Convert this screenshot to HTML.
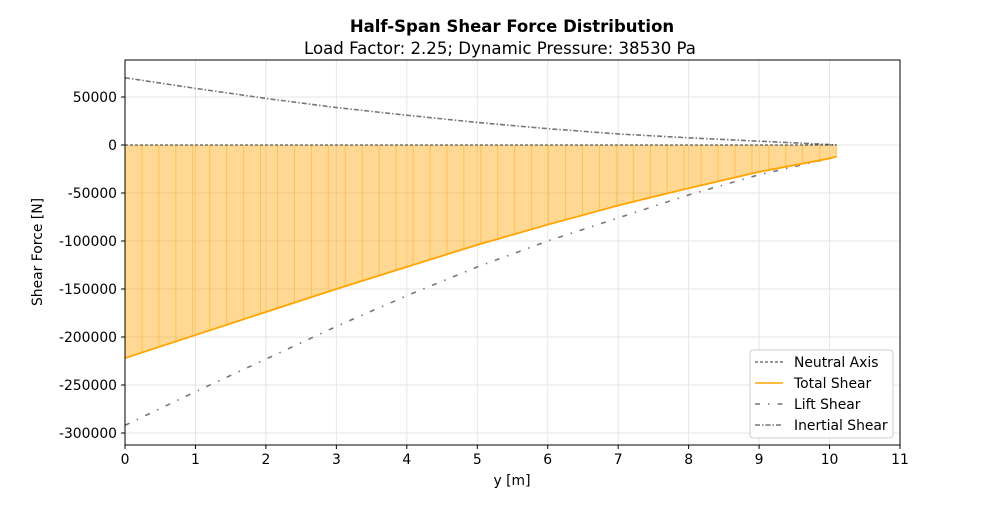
<!DOCTYPE html>
<html><head><meta charset="utf-8"><style>
body{margin:0;background:#fff;font-family:"Liberation Sans","DejaVu Sans",sans-serif;}
svg text{font-family:"DejaVu Sans","Liberation Sans",sans-serif;}
</style></head><body>
<svg id="chart" width="1000" height="500" xmlns="http://www.w3.org/2000/svg">
<text x="512" y="32" text-anchor="middle" font-size="16.5" font-weight="bold">Half-Span Shear Force Distribution</text>
<text x="500" y="54" text-anchor="middle" font-size="16.6">Load Factor: 2.25; Dynamic Pressure: 38530 Pa</text>
<g id="grid"></g><g id="marks"></g><g id="axes"></g>
<text x="512" y="485" text-anchor="middle" font-size="13.9">y [m]</text>
<text transform="translate(42,252) rotate(-90)" text-anchor="middle" font-size="13.9">Shear Force [N]</text>
<g>
<rect x="750" y="350" width="143" height="88" rx="3" fill="#fff" fill-opacity="0.85" stroke="#ccc"/>
<line x1="755" y1="362" x2="783" y2="362" stroke="#333" stroke-width="1" stroke-dasharray="3,2"/>
<text x="794" y="367" font-size="13.9">Neutral Axis</text>
<line x1="755" y1="383" x2="783" y2="383" stroke="orange" stroke-width="1.6"/>
<text x="794" y="388" font-size="13.9">Total Shear</text>
<line x1="755" y1="404" x2="783" y2="404" stroke="#777" stroke-width="1.6" stroke-dasharray="5,8,1.5,8"/>
<text x="794" y="409" font-size="13.9">Lift Shear</text>
<line x1="755" y1="425" x2="783" y2="425" stroke="#777" stroke-width="1.6" stroke-dasharray="5,2,1.5,2"/>
<text x="794" y="430" font-size="13.9">Inertial Shear</text>
</g>
</svg>
<script>
const stations=[0,1,2,3,4,5,6,7,8,9,10,10.1];
const totalShear=[-222000,-198000,-174000,-150000,-127000,-104000,-83000,-63000,-45000,-28000,-14000,-12000];
const liftShear=[-292000,-257000,-223000,-189000,-157000,-127000,-100000,-76000,-52000,-31000,-14000,-12000];
const inertialShear=[70000,59000,48500,39000,31000,23500,17000,11500,7500,4000,500,0];
const xTicks=[0,1,2,3,4,5,6,7,8,9,10,11];
const yTicks=[50000,0,-50000,-100000,-150000,-200000,-250000,-300000];
const L=125,R=900,T=60,B=445,XMIN=0,XMAX=11,YMIN=-312500,YMAX=88542;
const sx=v=>L+(v-XMIN)/(XMAX-XMIN)*(R-L);
const sy=v=>T+(YMAX-v)/(YMAX-YMIN)*(B-T);
const NS="http://www.w3.org/2000/svg";
function mk(p,tag,at){const e=document.createElementNS(NS,tag);for(const k in at)e.setAttribute(k,at[k]);p.appendChild(e);return e;}
function interp(arr,x){for(let i=0;i<stations.length-1;i++){if(x<=stations[i+1]){const t=(x-stations[i])/(stations[i+1]-stations[i]);return arr[i]+t*(arr[i+1]-arr[i]);}}return arr[arr.length-1];}
const grid=document.getElementById('grid'),marks=document.getElementById('marks'),axes=document.getElementById('axes');
xTicks.forEach(t=>{const g=mk(grid,'line',{x1:sx(t),x2:sx(t),y1:T,y2:B,stroke:'#e6e6e6','stroke-width':1});


mk(axes,'line',{x1:sx(t),x2:sx(t),y1:B,y2:B+4,stroke:'#000'});
const tx=mk(axes,'text',{x:sx(t),y:B+19,'text-anchor':'middle','font-size':13.9});tx.textContent=t;

});
yTicks.forEach(t=>{const g=mk(grid,'line',{x1:L,x2:R,y1:sy(t),y2:sy(t),stroke:'#e6e6e6','stroke-width':1});


mk(axes,'line',{x1:L-4,x2:L,y1:sy(t),y2:sy(t),stroke:'#000'});
const tx=mk(axes,'text',{x:L-8,y:sy(t)+5,'text-anchor':'end','font-size':13.9});tx.textContent=t;

});
let pts=stations.map((s,i)=>sx(s)+','+sy(totalShear[i]));
pts.push(sx(stations[stations.length-1])+','+sy(0));pts.push(sx(0)+','+sy(0));
const f=mk(marks,'polygon',{points:pts.join(' '),fill:'orange','fill-opacity':0.42});


const span=stations[stations.length-1],nEdge=42;
for(let k=0;k<=nEdge;k++){const s=span*k/nEdge;
const l=mk(marks,'line',{x1:sx(s),x2:sx(s),y1:sy(0),y2:sy(interp(totalShear,s)),stroke:'orange','stroke-opacity':0.45,'stroke-width':1});

}
function line(arr,name,at){const p=mk(marks,'polyline',Object.assign({points:stations.map((s,i)=>sx(s)+','+sy(arr[i])).join(' '),fill:'none'},at));

}
line(liftShear,'lift-shear-line',{stroke:'#777','stroke-width':1.6,'stroke-dasharray':'5,8,1.5,8'});
line(inertialShear,'inertial-shear-line',{stroke:'#777','stroke-width':1.6,'stroke-dasharray':'5,2,1.5,2'});
line(totalShear,'total-shear-line',{stroke:'orange','stroke-width':1.8});
const na=mk(marks,'line',{x1:sx(0),x2:sx(span),y1:sy(0),y2:sy(0),stroke:'#333','stroke-width':1,'stroke-dasharray':'3,2'});


const fr=mk(axes,'rect',{x:L,y:T,width:R-L,height:B-T,fill:'none',stroke:'#000','stroke-width':1});


</script>
</body></html>
